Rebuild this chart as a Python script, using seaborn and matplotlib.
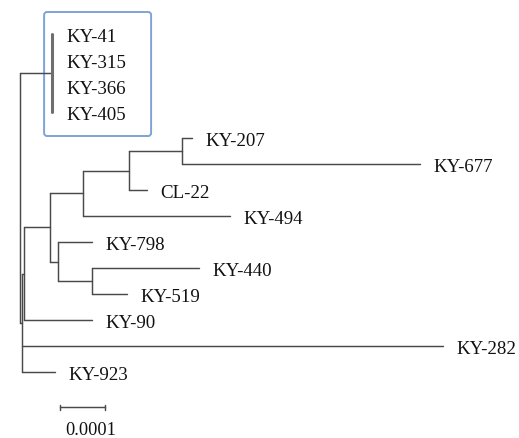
import numpy as np
import pandas as pd
import seaborn as sns
import matplotlib.pyplot as plt
from matplotlib.patches import FancyBboxPatch


# Tree in newick form, branch lengths in units of 1e-4 subst./site
newick = ("((KY-41:0,KY-315:0,KY-366:0,KY-405:0):0.72,"
          "((((((KY-207:0.22,KY-677:5.29):1.18,CL-22:0.40):1.02,KY-494:3.27):0.74,"
          "(KY-798:0.76,(KY-440:2.38,KY-519:0.78):0.76):0.19):0.56,KY-90:1.50):0.045,"
          "KY-282:9.35,KY-923:0.73):0.06);")
scale_len = 0.0001
scale_label = "0.0001"
boxed = ["KY-41", "KY-315", "KY-366", "KY-405"]


def parse(s, i=0):
    # returns (node, next index); node = dict(name, length, children)
    node = {"name": "", "length": 0.0, "children": []}
    if s[i] == "(":
        i += 1
        while True:
            child, i = parse(s, i)
            node["children"].append(child)
            if s[i] == ",":
                i += 1
            else:
                i += 1  # ')'
                break
    j = i
    while s[i] not in ",():;":
        i += 1
    node["name"] = s[j:i]
    if s[i] == ":":
        i += 1
        j = i
        while s[i] not in ",();":
            i += 1
        node["length"] = float(s[j:i]) * 1e-4
    return node, i


root, _ = parse(newick)

# layout: x = distance from root, y = leaf order
leaves = []
def layout(node, x0):
    node["x"] = x0 + node["length"]
    if not node["children"]:
        node["y"] = len(leaves)
        leaves.append(node)
    else:
        for c in node["children"]:
            layout(c, node["x"])
        node["y"] = (node["children"][0]["y"] + node["children"][-1]["y"]) / 2
root["length"] = 0.0
layout(root, 0.0)

segs = []
thick = []
def collect(node, parent=None):
    if parent is not None:
        segs.append(((parent["x"], node["y"]), (node["x"], node["y"])))
    if node["children"]:
        v = ((node["x"], node["children"][0]["y"]), (node["x"], node["children"][-1]["y"]))
        if all(c["length"] == 0 for c in node["children"]):
            thick.append(v)
        else:
            segs.append(v)
        for c in node["children"]:
            collect(c, node)
collect(root)

def to_df(seglist):
    rows = []
    for k, (a, b) in enumerate(seglist):
        rows.append({"seg": k, "x": a[0], "y": a[1]})
        rows.append({"seg": k, "x": b[0], "y": b[1]})
    return pd.DataFrame(rows)

sns.set_theme(style="white")
plt.rcParams["font.family"] = ["Liberation Serif", "DejaVu Serif"]

PX = 1e-4 / 45  # data units per pixel
fig = plt.figure(figsize=(5.19, 4.38), dpi=100)
ax = fig.add_axes([0, 0, 1, 1])
ax.set_xlim(-19.7 * PX, 499.3 * PX)
ax.set_ylim(404 / 26, -34 / 26)
ax.axis("off")

sns.lineplot(data=to_df(segs), x="x", y="y", units="seg", estimator=None, sort=False,
             color="#4a4a4a", lw=1.05, legend=False, ax=ax)
sns.lineplot(data=to_df(thick), x="x", y="y", units="seg", estimator=None, sort=False,
             color="#6e6e6e", lw=2.2, legend=False, ax=ax)

for lf in leaves:
    off = 10.5 if lf["name"] in boxed else 9.5
    ax.annotate(lf["name"], (lf["x"], lf["y"]), xytext=(off, -2.5), textcoords="offset points",
                ha="left", va="center", fontsize=13.6, color="#111111")

# box around the collapsed group
grp = root["children"][0]
bx0 = grp["x"] - 8 * PX
by0 = grp["children"][0]["y"] - 22 / 26
bx1 = grp["x"] + 99 * PX
by1 = grp["children"][-1]["y"] + 24 / 26
box = FancyBboxPatch((bx0, by0), bx1 - bx0, by1 - by0,
                     boxstyle=f"round,pad=0,rounding_size={3 * PX}",
                     mutation_aspect=1 / (26 * PX), fill=False,
                     edgecolor="#7ea3d6", lw=1.4)
ax.add_patch(box)

# scale bar
sx0 = 40.3 * PX
sy = len(leaves) + 0.35
ax.plot([sx0, sx0 + scale_len], [sy, sy], color="#4a4a4a", lw=1.05)
for xx in (sx0, sx0 + scale_len):
    ax.plot([xx, xx], [sy - 0.1, sy + 0.1], color="#4a4a4a", lw=1.05)
ax.annotate(scale_label, (sx0, sy), xytext=(3.5, -17), textcoords="offset points",
            ha="left", va="center", fontsize=13.2, color="#111111")

fig.savefig("out.png", dpi=100)
